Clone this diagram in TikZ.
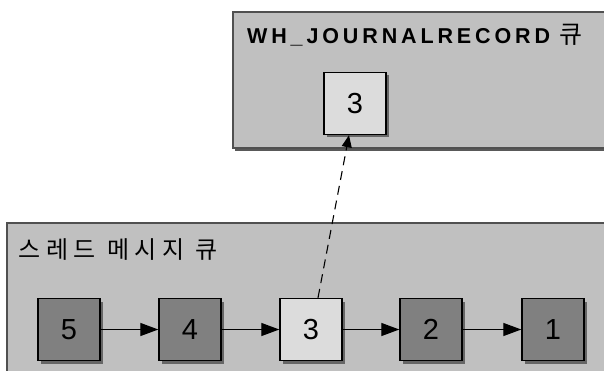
\documentclass[tikz,border=0pt]{standalone}
\usepackage{fontspec}
\setmainfont{Liberation Sans}
\newfontfamily\krfont[LetterSpace=24]{Noto Sans CJK KR}
\newfontfamily\titlefont[LetterSpace=18]{Liberation Sans}
\newfontfamily\krtitle{Noto Sans CJK KR}
\usetikzlibrary{arrows.meta}
\definecolor{contfill}{HTML}{C0C0C0}
\definecolor{contedge}{HTML}{505050}
\definecolor{darkbox}{HTML}{808080}
\definecolor{lightbox}{HTML}{DCDCDC}
\begin{document}
\begin{tikzpicture}[x=1pt,y=-1pt,
  container/.style={fill=contfill,draw=contedge,line width=1.6pt},
  msgbox/.style={draw=black,line width=1.4pt,minimum width=62pt,minimum height=62pt,
     inner sep=0pt,font=\fontsize{29}{29}\selectfont},
  darkmsg/.style={msgbox,fill=darkbox},
  lightmsg/.style={msgbox,fill=lightbox},
  flow/.style={line width=1.3pt,-{Triangle[length=18pt,width=13pt]}},
  link/.style={line width=1.1pt,dash pattern=on 9pt off 6pt,-{Triangle[length=12pt,width=10pt]}}
]
\useasboundingbox (0,0) rectangle (604,370);
\begin{scope}
\clip (0,0) rectangle (604,370);
% containers
\fill[black!65] (235,14) rectangle (620,151);
\draw[container] (233,12) rectangle (620,148);
\fill[black!65] (9,225) rectangle (620,380);
\draw[container] (7,223) rectangle (620,380);
\node[anchor=base west,inner sep=0pt] (ttl) at (247,43.5) {\bfseries\titlefont\fontsize{21.5}{22}\selectfont WH\_JOURNALRECORD {\mdseries\krtitle\fontsize{25}{25}\selectfont 큐}};
\node[anchor=base west,inner sep=0pt] (qlbl) at (18,258) {\krfont\fontsize{24}{24}\selectfont 스레드 메시지 큐};
% shadows
\foreach \cx in {69,190,311,431,553}{
  \fill[black!60] (\cx-28,301.5) rectangle (\cx+34,363.5);
}
\fill[black!60] (327,75) rectangle (389,137);
% boxes
\node[darkmsg] (b5) at (69,329.5) {5};
\node[darkmsg] (b4) at (190,329.5) {4};
\node[lightmsg] (b3) at (311,329.5) {3};
\node[darkmsg] (b2) at (431,329.5) {2};
\node[darkmsg] (b1) at (553,329.5) {1};
\node[lightmsg] (t3) at (355,103.5) {3};
% connectors
\draw[flow] (b5) -- (b4);
\draw[flow] (b4) -- (b3);
\draw[flow] (b3) -- (b2);
\draw[flow] (b2) -- (b1);
\draw[link] ([xshift=7pt]b3.north) -- ([xshift=-6pt]t3.south);
\end{scope}
\end{tikzpicture}
\end{document}
